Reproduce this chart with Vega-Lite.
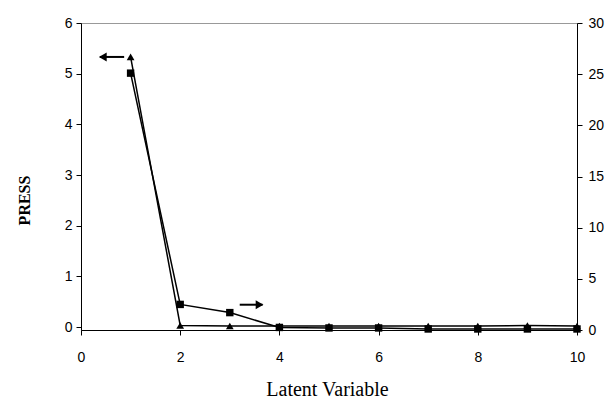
{
  "$schema": "https://vega.github.io/schema/vega-lite/v6.json",
  "autosize": "none",
  "width": 496,
  "height": 307,
  "padding": {"left": 81, "top": 23, "right": 36, "bottom": 71},
  "background": "white",
  "config": {
    "view": {"stroke": "#999999", "strokeWidth": 1},
    "axis": {
      "grid": false,
      "domainColor": "black",
      "tickColor": "black",
      "labelColor": "black",
      "labelFont": "Liberation Sans",
      "labelFontSize": 14,
      "labelFlush": false,
      "titleFont": "Liberation Serif",
      "titleColor": "black",
      "tickSize": 5
    }
  },
  "datasets": {
    "press": [
      {"lv": 1, "tri": 5.33, "sq": 25.1},
      {"lv": 2, "tri": 0.03, "sq": 2.5},
      {"lv": 3, "tri": 0.02, "sq": 1.7},
      {"lv": 4, "tri": 0.02, "sq": 0.25},
      {"lv": 5, "tri": 0.02, "sq": 0.2},
      {"lv": 6, "tri": 0.02, "sq": 0.2},
      {"lv": 7, "tri": 0.02, "sq": 0.1},
      {"lv": 8, "tri": 0.02, "sq": 0.1},
      {"lv": 9, "tri": 0.03, "sq": 0.1},
      {"lv": 10, "tri": 0.02, "sq": 0.1}
    ],
    "arrows": [
      {"x1": 0.38, "x2": 0.87, "y": 5.33, "head": 0.44, "shape": "triangle-left"},
      {"x1": 3.2, "x2": 3.66, "y": 0.44, "head": 3.6, "shape": "triangle-right"}
    ]
  },
  "layer": [
    {
      "layer": [
        {
          "data": {"name": "press"},
          "mark": {"type": "line", "color": "black", "strokeWidth": 1.5},
          "encoding": {
            "x": {"field": "lv", "type": "quantitative", "scale": {"domain": [0, 10], "nice": false},
              "axis": {"values": [0, 2, 4, 6, 8, 10], "title": "Latent Variable", "titleFontSize": 20, "titleFontWeight": "normal", "labelPadding": 15, "titleX": 246, "titleY": 65, "titleBaseline": "alphabetic", "titleAlign": "center"}},
            "y": {"field": "tri", "type": "quantitative", "scale": {"domain": [-0.059, 6], "nice": false, "zero": false},
              "axis": {"values": [0, 1, 2, 3, 4, 5, 6], "title": "PRESS", "titleFontSize": 16, "titleFontWeight": "bold", "labelPadding": 4, "titleX": -57, "titleY": 177, "titleAngle": -90, "titleBaseline": "middle", "titleAlign": "center"}}
          }
        },
        {
          "data": {"name": "press"},
          "mark": {"type": "point", "shape": "triangle-up", "filled": true, "color": "black", "size": 60, "opacity": 1},
          "encoding": {
            "x": {"field": "lv", "type": "quantitative"},
            "y": {"field": "tri", "type": "quantitative"}
          }
        },
        {
          "data": {"name": "arrows"},
          "mark": {"type": "rule", "color": "black", "strokeWidth": 2},
          "encoding": {
            "x": {"field": "x1", "type": "quantitative"},
            "x2": {"field": "x2"},
            "y": {"field": "y", "type": "quantitative"}
          }
        },
        {
          "data": {"name": "arrows"},
          "mark": {"type": "point", "filled": true, "color": "black", "size": 80, "opacity": 1},
          "encoding": {
            "x": {"field": "head", "type": "quantitative"},
            "y": {"field": "y", "type": "quantitative"},
            "shape": {"field": "shape", "type": "nominal", "scale": null}
          }
        }
      ]
    },
    {
      "layer": [
        {
          "data": {"name": "press"},
          "mark": {"type": "line", "color": "black", "strokeWidth": 1.5},
          "encoding": {
            "x": {"field": "lv", "type": "quantitative"},
            "y": {"field": "sq", "type": "quantitative", "scale": {"domain": [0, 30], "nice": false},
              "axis": {"orient": "right", "values": [0, 5, 10, 15, 20, 25, 30], "title": null, "labelPadding": 6}}
          }
        },
        {
          "data": {"name": "press"},
          "mark": {"type": "point", "shape": "square", "filled": true, "color": "black", "size": 55, "opacity": 1},
          "encoding": {
            "x": {"field": "lv", "type": "quantitative"},
            "y": {"field": "sq", "type": "quantitative"}
          }
        }
      ]
    }
  ],
  "resolve": {"scale": {"y": "independent"}}
}
